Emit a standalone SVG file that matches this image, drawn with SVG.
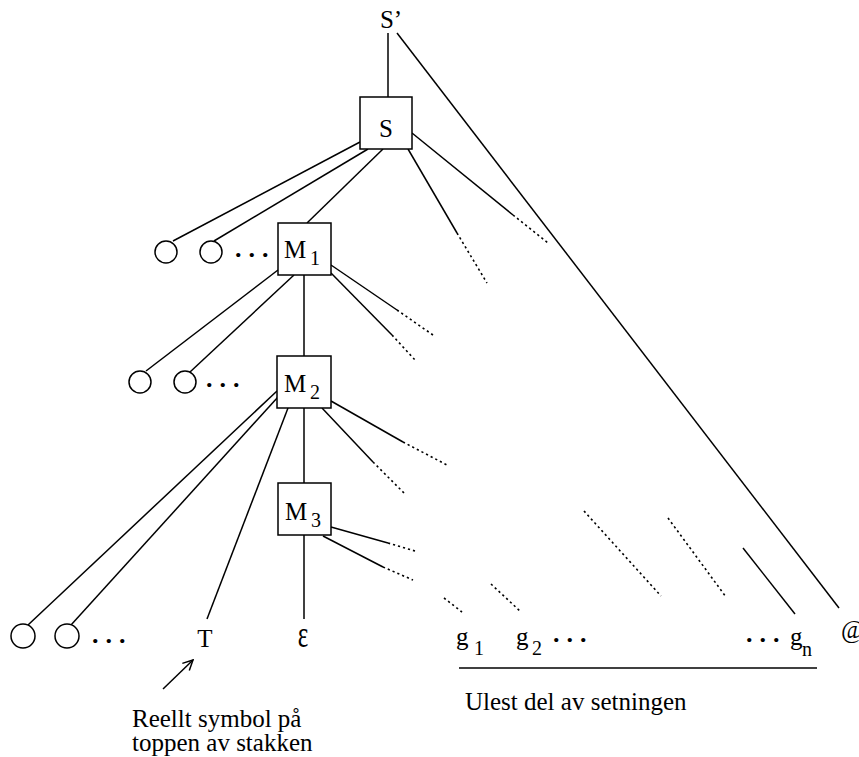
<svg xmlns="http://www.w3.org/2000/svg" width="859" height="757" viewBox="0 0 859 757">
<style>
text{font-family:"Liberation Serif","Times New Roman",serif;font-size:25px;fill:#000}
.sub{font-size:20px}
.dots{letter-spacing:7px;font-weight:bold;font-size:26px}
line{stroke:#000;stroke-width:1.5;fill:none}
.dot{stroke-dasharray:2.2 3;stroke-width:1.6}
rect,circle{fill:#fff;stroke:#000;stroke-width:1.5}
</style>
<defs>
<marker id="open" viewBox="0 0 12 12" refX="11" refY="6" markerWidth="12" markerHeight="12" markerUnits="userSpaceOnUse" orient="auto">
<path d="M1,1 L11,6 L1,11" fill="none" stroke="#000" stroke-width="1.5"/>
</marker>
</defs>
<g id="connectors">
<line x1="388" y1="33" x2="388" y2="97"/>
<line x1="397" y1="33" x2="839" y2="608"/>
<line x1="360" y1="142" x2="173" y2="241"/>
<line x1="368" y1="149" x2="214" y2="241"/>
<line x1="383" y1="149" x2="307" y2="223"/>
<line x1="408" y1="149" x2="457" y2="233"/>
<line class="dot" x1="457" y1="233" x2="487" y2="283"/>
<line x1="412" y1="133" x2="513" y2="215"/>
<line class="dot" x1="513" y1="215" x2="548" y2="243"/>
<line x1="304" y1="275" x2="304" y2="356"/>
<line x1="278" y1="270" x2="146" y2="371"/>
<line x1="294" y1="275" x2="190" y2="372"/>
<line x1="331" y1="265" x2="397" y2="310"/>
<line class="dot" x1="397" y1="310" x2="433" y2="335"/>
<line x1="331" y1="273" x2="392" y2="335"/>
<line class="dot" x1="392" y1="335" x2="415" y2="360"/>
<line x1="304" y1="408" x2="304" y2="483"/>
<line x1="277" y1="391" x2="28" y2="625"/>
<line x1="278" y1="397" x2="71" y2="625"/>
<line x1="288" y1="408" x2="207" y2="619"/>
<line x1="331" y1="401" x2="403" y2="442"/>
<line class="dot" x1="403" y1="442" x2="447" y2="465"/>
<line x1="322" y1="408" x2="373" y2="462"/>
<line class="dot" x1="373" y1="462" x2="404" y2="493"/>
<line x1="304" y1="535" x2="304" y2="619"/>
<line x1="331" y1="527" x2="388" y2="543"/>
<line class="dot" x1="388" y1="543" x2="415" y2="551"/>
<line x1="323" y1="536" x2="383" y2="567"/>
<line class="dot" x1="383" y1="567" x2="413" y2="580"/>
<line class="dot" x1="444" y1="598" x2="462" y2="612"/>
<line class="dot" x1="491" y1="584" x2="521" y2="612"/>
<line class="dot" x1="584" y1="511" x2="661" y2="596"/>
<line class="dot" x1="668" y1="518" x2="726" y2="597"/>
<line x1="743" y1="548" x2="795" y2="614"/>
<line x1="459" y1="668" x2="817" y2="668"/>
<line x1="163" y1="689" x2="193" y2="660" marker-end="url(#open)"/>
</g>
<g id="node-Sprime"><text x="391" y="28" text-anchor="middle">S’</text></g>
<g id="node-S"><rect x="360" y="97" width="52" height="52"/><text x="386" y="137" text-anchor="middle">S</text></g>
<g id="node-M1"><rect x="278" y="223" width="53" height="52"/><text x="284" y="258">M</text><text class="sub" x="310" y="265">1</text></g>
<g id="node-M2"><rect x="277" y="356" width="54" height="52"/><text x="284" y="392">M</text><text class="sub" x="310" y="399">2</text></g>
<g id="node-M3"><rect x="278" y="483" width="53" height="52"/><text x="285" y="520">M</text><text class="sub" x="311" y="527">3</text></g>
<g id="row1"><circle cx="166" cy="252" r="11"/><circle cx="211" cy="252" r="11"/><text class="dots" x="235" y="257">...</text></g>
<g id="row2"><circle cx="140" cy="382" r="11"/><circle cx="185" cy="382" r="11"/><text class="dots" x="206" y="387">...</text></g>
<g id="row3"><circle cx="23" cy="636" r="12"/><circle cx="67" cy="636" r="12"/><text class="dots" x="92" y="643">...</text></g>
<g id="node-T"><text x="205" y="647" text-anchor="middle">T</text></g>
<g id="node-eps"><text transform="translate(303,647) scale(1,1.5)" text-anchor="middle">ε</text></g>
<g id="node-g1"><text x="456" y="645">g</text><text class="sub" x="474" y="655">1</text></g>
<g id="node-g2"><text x="516" y="645">g</text><text class="sub" x="532" y="655">2</text><text class="dots" x="553" y="642">...</text></g>
<g id="node-gn"><text class="dots" x="746" y="642">...</text><text x="790" y="645">g</text><text class="sub" x="802" y="656">n</text></g>
<g id="node-at"><text x="841" y="638">@</text></g>
<g id="labels">
<text x="465" y="710">Ulest del av setningen</text>
<text x="132" y="727">Reellt symbol på</text>
<text x="132" y="751">toppen av stakken</text>
</g>
</svg>
